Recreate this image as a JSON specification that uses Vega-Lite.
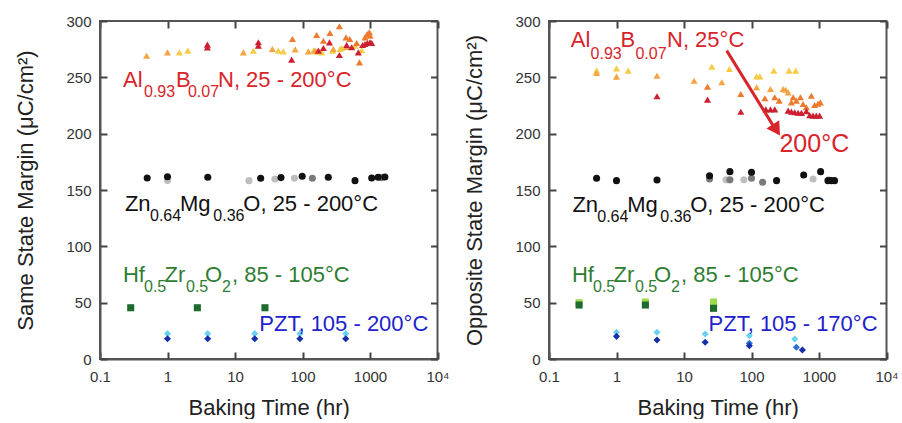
{
  "$schema": "https://vega.github.io/schema/vega-lite/v6.json",
  "autosize": {"type": "pad"},
  "padding": {"left": 13, "top": 13, "right": 5, "bottom": 0},
  "background": "white",
  "config": {
    "font": "Liberation Sans",
    "view": {"stroke": "#555", "strokeWidth": 2},
    "concat": {"spacing": 11},
    "axis": {
      "labelFont": "Liberation Sans", "labelFontSize": 15, "labelColor": "#333",
      "titleFont": "Liberation Sans", "titleFontSize": 22, "titleFontWeight": "normal", "titleColor": "#222",
      "domainColor": "#555", "domainWidth": 2, "tickColor": "#444", "tickWidth": 2, "grid": false, "labelFlush": false, "zindex": 1
    }
  },
  "datasets": {
    "pts": [
      {"p":"L","x":1.5,"y":272.2,"s":"A25"},{"p":"L","x":2.0,"y":273.7,"s":"A25"},{"p":"L","x":18.7,"y":273.7,"s":"A25"},{"p":"L","x":43.8,"y":273.7,"s":"A25"},{"p":"L","x":52,"y":273,"s":"A25"},{"p":"L","x":145,"y":273.7,"s":"A25"},{"p":"L","x":162,"y":272.8,"s":"A25"},{"p":"L","x":192,"y":272.2,"s":"A25"},{"p":"L","x":280,"y":273.7,"s":"A25"},{"p":"L","x":360,"y":275.2,"s":"A25"},{"p":"L","x":380,"y":276,"s":"A25"},{"p":"L","x":600,"y":278,"s":"A25"},{"p":"L","x":753,"y":274,"s":"A25"},
      {"p":"L","x":0.49,"y":269.2,"s":"A105"},{"p":"L","x":1.0,"y":272.2,"s":"A105"},{"p":"L","x":13.3,"y":272.2,"s":"A105"},{"p":"L","x":35.7,"y":275.2,"s":"A105"},{"p":"L","x":78,"y":274.8,"s":"A105"},{"p":"L","x":122,"y":273,"s":"A105"},{"p":"L","x":153,"y":273.7,"s":"A105"},{"p":"L","x":286,"y":275.2,"s":"A105"},{"p":"L","x":450,"y":277,"s":"A105"},
      {"p":"L","x":71,"y":284,"s":"A150"},{"p":"L","x":162,"y":287.6,"s":"A150"},{"p":"L","x":204,"y":282.5,"s":"A150"},{"p":"L","x":255,"y":289.4,"s":"A150"},{"p":"L","x":352,"y":295.3,"s":"A150"},{"p":"L","x":441,"y":285.5,"s":"A150"},{"p":"L","x":501,"y":284,"s":"A150"},{"p":"L","x":635,"y":280.5,"s":"A150"},{"p":"L","x":697,"y":263.3,"s":"A150"},{"p":"L","x":843,"y":285.5,"s":"A150"},{"p":"L","x":912,"y":288.5,"s":"A150"},{"p":"L","x":980,"y":290,"s":"A150"},{"p":"L","x":1000,"y":287,"s":"A150"},
      {"p":"L","x":3.9,"y":276.6,"s":"A200"},{"p":"L","x":3.9,"y":279,"s":"A200"},{"p":"L","x":22.2,"y":281.1,"s":"A200"},{"p":"L","x":22.2,"y":278.1,"s":"A200"},{"p":"L","x":69,"y":265.7,"s":"A200"},{"p":"L","x":172,"y":273.7,"s":"A200"},{"p":"L","x":204,"y":276,"s":"A200"},{"p":"L","x":251,"y":281,"s":"A200"},{"p":"L","x":352,"y":269.8,"s":"A200"},{"p":"L","x":451,"y":278.7,"s":"A200"},{"p":"L","x":535,"y":276.7,"s":"A200"},{"p":"L","x":672,"y":272.2,"s":"A200"},{"p":"L","x":776,"y":278.7,"s":"A200"},{"p":"L","x":843,"y":279.6,"s":"A200"},{"p":"L","x":912,"y":280.5,"s":"A200"},{"p":"L","x":1000,"y":281.1,"s":"A200"},{"p":"L","x":1060,"y":280.5,"s":"A200"},
      {"p":"L","x":1.0,"y":158.5,"s":"Z3"},{"p":"L","x":16.1,"y":158.3,"s":"Z3"},{"p":"L","x":39,"y":159.8,"s":"Z3"},{"p":"L","x":76,"y":160.4,"s":"Z3"},
      {"p":"L","x":140,"y":160.4,"s":"Z2"},{"p":"L","x":1480,"y":161,"s":"Z2"},
      {"p":"L","x":0.5,"y":160.7,"s":"Z1"},{"p":"L","x":1.0,"y":161.8,"s":"Z1"},{"p":"L","x":3.95,"y":161.3,"s":"Z1"},{"p":"L","x":24,"y":160.4,"s":"Z1"},{"p":"L","x":48,"y":161,"s":"Z1"},{"p":"L","x":99,"y":162.2,"s":"Z1"},{"p":"L","x":241,"y":161.3,"s":"Z1"},{"p":"L","x":600,"y":158.3,"s":"Z1"},{"p":"L","x":1059,"y":160.7,"s":"Z1"},{"p":"L","x":1320,"y":161.3,"s":"Z1"},{"p":"L","x":1660,"y":161.5,"s":"Z1"},
      {"p":"L","x":0.285,"y":45.5,"s":"H1"},{"p":"L","x":2.77,"y":45.5,"s":"H1"},{"p":"L","x":27.8,"y":45.5,"s":"H1"},
      {"p":"L","x":1.0,"y":22.5,"s":"P2"},{"p":"L","x":3.94,"y":22.5,"s":"P2"},{"p":"L","x":19.6,"y":22.5,"s":"P2"},{"p":"L","x":91.4,"y":22.5,"s":"P2"},{"p":"L","x":437,"y":22.5,"s":"P2"},
      {"p":"L","x":1.0,"y":18,"s":"P1"},{"p":"L","x":3.94,"y":18,"s":"P1"},{"p":"L","x":19.6,"y":18,"s":"P1"},{"p":"L","x":91.4,"y":18,"s":"P1"},{"p":"L","x":437,"y":18,"s":"P1"},

      {"p":"R","x":0.507,"y":256,"s":"A25"},{"p":"R","x":1.0,"y":258,"s":"A25"},{"p":"R","x":1.49,"y":255.9,"s":"A25"},{"p":"R","x":25.8,"y":259.5,"s":"A25"},{"p":"R","x":47,"y":257.4,"s":"A25"},{"p":"R","x":119,"y":250.9,"s":"A25"},{"p":"R","x":133,"y":250.9,"s":"A25"},{"p":"R","x":214,"y":255.9,"s":"A25"},{"p":"R","x":361,"y":255.9,"s":"A25"},{"p":"R","x":452,"y":255.9,"s":"A25"},
      {"p":"R","x":0.507,"y":253.8,"s":"A105"},{"p":"R","x":1.0,"y":250.6,"s":"A105"},{"p":"R","x":3.98,"y":251.5,"s":"A105"},{"p":"R","x":14.1,"y":247,"s":"A105"},{"p":"R","x":36.3,"y":245.6,"s":"A105"},{"p":"R","x":119,"y":241.2,"s":"A105"},{"p":"R","x":191,"y":239.7,"s":"A105"},{"p":"R","x":295,"y":239.7,"s":"A105"},{"p":"R","x":321,"y":239,"s":"A105"},{"p":"R","x":349,"y":236.7,"s":"A105"},
      {"p":"R","x":22.3,"y":241.7,"s":"A150"},{"p":"R","x":69.5,"y":235.2,"s":"A150"},{"p":"R","x":158,"y":231.4,"s":"A150"},{"p":"R","x":221,"y":232.3,"s":"A150"},{"p":"R","x":257,"y":229.3,"s":"A150"},{"p":"R","x":390,"y":227.8,"s":"A150"},{"p":"R","x":414,"y":232.3,"s":"A150"},{"p":"R","x":462,"y":229.3,"s":"A150"},{"p":"R","x":530,"y":232.3,"s":"A150"},{"p":"R","x":580,"y":226.3,"s":"A150"},{"p":"R","x":650,"y":223.4,"s":"A150"},{"p":"R","x":770,"y":233.7,"s":"A150"},{"p":"R","x":861,"y":225.4,"s":"A150"},{"p":"R","x":966,"y":226.6,"s":"A150"},{"p":"R","x":1047,"y":227.8,"s":"A150"},
      {"p":"R","x":3.98,"y":233.2,"s":"A200"},{"p":"R","x":22.3,"y":230.2,"s":"A200"},{"p":"R","x":69.5,"y":219.5,"s":"A200"},{"p":"R","x":163,"y":221.6,"s":"A200"},{"p":"R","x":191,"y":221.6,"s":"A200"},{"p":"R","x":221,"y":221.6,"s":"A200"},{"p":"R","x":349,"y":220.4,"s":"A200"},{"p":"R","x":390,"y":219.6,"s":"A200"},{"p":"R","x":436,"y":219,"s":"A200"},{"p":"R","x":490,"y":218.6,"s":"A200"},{"p":"R","x":550,"y":218.4,"s":"A200"},{"p":"R","x":650,"y":220,"s":"A200"},{"p":"R","x":728,"y":216.5,"s":"A200"},{"p":"R","x":815,"y":216,"s":"A200"},{"p":"R","x":912,"y":216,"s":"A200"},{"p":"R","x":1020,"y":216,"s":"A200"},
      {"p":"R","x":42,"y":159,"s":"Z3"},{"p":"R","x":77,"y":159.1,"s":"Z3"},{"p":"R","x":817,"y":159.8,"s":"Z3"},{"p":"R","x":1400,"y":159,"s":"Z3"},
      {"p":"R","x":23.9,"y":159.8,"s":"Z2"},{"p":"R","x":47.9,"y":159,"s":"Z2"},{"p":"R","x":100,"y":160.5,"s":"Z2"},{"p":"R","x":146,"y":156.8,"s":"Z2"},
      {"p":"R","x":0.507,"y":160.4,"s":"Z1"},{"p":"R","x":1.0,"y":158.3,"s":"Z1"},{"p":"R","x":3.98,"y":158.9,"s":"Z1"},{"p":"R","x":23.9,"y":162.7,"s":"Z1"},{"p":"R","x":47.9,"y":166.3,"s":"Z1"},{"p":"R","x":100,"y":165.7,"s":"Z1"},{"p":"R","x":235,"y":158.3,"s":"Z1"},{"p":"R","x":593,"y":163.3,"s":"Z1"},{"p":"R","x":1057,"y":166.3,"s":"Z1"},{"p":"R","x":1358,"y":158.3,"s":"Z1"},{"p":"R","x":1515,"y":158.3,"s":"Z1"},{"p":"R","x":1697,"y":158.3,"s":"Z1"},
      {"p":"R","x":0.279,"y":50,"s":"H2"},{"p":"R","x":2.68,"y":50.6,"s":"H2"},{"p":"R","x":27.4,"y":50.6,"s":"H2"},{"p":"R","x":27.4,"y":48,"s":"H2"},
      {"p":"R","x":0.279,"y":47.9,"s":"H1"},{"p":"R","x":2.68,"y":47.9,"s":"H1"},{"p":"R","x":27.4,"y":45,"s":"H1"},
      {"p":"R","x":1.0,"y":23.7,"s":"P2"},{"p":"R","x":3.98,"y":23.7,"s":"P2"},{"p":"R","x":20.6,"y":22.2,"s":"P2"},{"p":"R","x":93,"y":20.7,"s":"P2"},{"p":"R","x":437,"y":17.8,"s":"P2"},
      {"p":"R","x":93,"y":14,"s":"P3"},{"p":"R","x":462,"y":10.4,"s":"P3"},
      {"p":"R","x":1.0,"y":20.1,"s":"P1"},{"p":"R","x":3.98,"y":16.9,"s":"P1"},{"p":"R","x":20.6,"y":14.8,"s":"P1"},{"p":"R","x":93,"y":11.8,"s":"P1"},{"p":"R","x":568,"y":8.0,"s":"P1"}
    ],
    "lab": [
      {"p":"L","k":"m","s":"tA","t":"Al","x":0.219,"y":241.4},
      {"p":"L","k":"s","s":"tA","t":"0.93","x":0.449,"y":232.6},
      {"p":"L","k":"m","s":"tA","t":"B","x":1.336,"y":241.4},
      {"p":"L","k":"s","s":"tA","t":"0.07","x":2.01,"y":232.6},
      {"p":"L","k":"m","s":"tA","t":"N, 25 - 200°C","x":5.6,"y":241.4},
      {"p":"L","k":"m","s":"tZ","t":"Zn","x":0.234,"y":131.6},
      {"p":"L","k":"s","s":"tZ","t":"0.64","x":0.551,"y":122.8},
      {"p":"L","k":"m","s":"tZ","t":"Mg","x":1.53,"y":131.6},
      {"p":"L","k":"s","s":"tZ","t":"0.36","x":4.77,"y":122.8},
      {"p":"L","k":"m","s":"tZ","t":"O, 25 - 200°C","x":13.27,"y":131.6},
      {"p":"L","k":"m","s":"tH","t":"Hf","x":0.219,"y":68.3},
      {"p":"L","k":"s","s":"tH","t":"0.5","x":0.4486,"y":59.5},
      {"p":"L","k":"m","s":"tH","t":"Zr","x":0.903,"y":68.3},
      {"p":"L","k":"s","s":"tH","t":"0.5","x":1.88,"y":59.5},
      {"p":"L","k":"m","s":"tH","t":"O","x":3.594,"y":68.3},
      {"p":"L","k":"s","s":"tH","t":"2","x":6.42,"y":59.5},
      {"p":"L","k":"m","s":"tH","t":", 85 - 105°C","x":9.03,"y":68.3},
      {"p":"L","k":"m","s":"tP","t":"PZT, 105 - 200°C","x":22.9,"y":25.1},
      {"p":"R","k":"m","s":"tA","t":"Al","x":0.21,"y":276.7},
      {"p":"R","k":"s","s":"tA","t":"0.93","x":0.4135,"y":266.3},
      {"p":"R","k":"m","s":"tA","t":"B","x":1.146,"y":276.7},
      {"p":"R","k":"s","s":"tA","t":"0.07","x":1.906,"y":266.3},
      {"p":"R","k":"m","s":"tA","t":"N, 25°C","x":5.6,"y":276.7},
      {"p":"R","k":"b","s":"tA","t":"200°C","x":259.4,"y":183.7},
      {"p":"R","k":"m","s":"tZ","t":"Zn","x":0.222,"y":130.2},
      {"p":"R","k":"s","s":"tZ","t":"0.64","x":0.519,"y":121.3},
      {"p":"R","k":"m","s":"tZ","t":"Mg","x":1.44,"y":130.2},
      {"p":"R","k":"s","s":"tZ","t":"0.36","x":4.46,"y":121.3},
      {"p":"R","k":"m","s":"tZ","t":"O, 25 - 200°C","x":12.35,"y":130.2},
      {"p":"R","k":"m","s":"tH","t":"Hf","x":0.219,"y":68.3},
      {"p":"R","k":"s","s":"tH","t":"0.5","x":0.4486,"y":59.5},
      {"p":"R","k":"m","s":"tH","t":"Zr","x":0.903,"y":68.3},
      {"p":"R","k":"s","s":"tH","t":"0.5","x":1.88,"y":59.5},
      {"p":"R","k":"m","s":"tH","t":"O","x":3.594,"y":68.3},
      {"p":"R","k":"s","s":"tH","t":"2","x":6.42,"y":59.5},
      {"p":"R","k":"m","s":"tH","t":", 85 - 105°C","x":9.03,"y":68.3},
      {"p":"R","k":"m","s":"tP","t":"PZT, 105 - 170°C","x":23.1,"y":25.1}
    ],
    "arr": [
      {"x":42.9,"y":273.7,"x2":215,"y2":206,"hx":234,"hy":203.3}
    ]
  },
  "hconcat": [
    {
      "width": 337.5, "height": 338,
      "layer": [
        {
          "data": {"name": "pts"},
          "transform": [{"filter": "datum.p == 'L'"}],
          "mark": {"type": "point", "filled": true, "size": 50, "opacity": 1},
          "encoding": {
            "x": {"field": "x", "type": "quantitative", "scale": {"type": "log", "domain": [0.1, 10000], "nice": false},
              "axis": {"orient": "bottom", "values": [0.1, 1, 10, 100, 1000, 10000], "labelExpr": "datum.value >= 10000 ? '10⁴' : (datum.value < 1 ? '0.1' : format(datum.value, 'd'))", "title": "Baking Time (hr)", "ticks": false, "labelPadding": 10, "titlePadding": 13}},
            "y": {"field": "y", "type": "quantitative", "scale": {"domain": [0, 300], "nice": false},
              "axis": {"orient": "left", "values": [0, 50, 100, 150, 200, 250, 300], "title": "Same State Margin (μC/cm²)", "ticks": false, "labelPadding": 9, "minExtent": 45, "maxExtent": 45, "titlePadding": 18}},
            "color": {"field": "s", "type": "nominal", "legend": null,
              "scale": {"domain": ["A25","A105","A150","A200","Z1","Z2","Z3","H1","H2","P1","P2","P3","tA","tZ","tH","tP"],
                        "range": ["#F6CB45","#F5A442","#EE7A2E","#CC1F2F","#111111","#7A7A7A","#BEBEBE","#1E6B2E","#9BDB4D","#1530A8","#6BD0F2","#2F6FD6","#D8242B","#111111","#2E7D32","#2222CC"]}},
            "shape": {"field": "s", "type": "nominal", "legend": null,
              "scale": {"domain": ["A25","A105","A150","A200","Z1","Z2","Z3","H1","H2","P1","P2","P3"],
                        "range": ["triangle-up","triangle-up","triangle-up","triangle-up","circle","circle","circle","square","square","diamond","diamond","diamond"]}}
          }
        },
        {
          "data": {"name": "pts"},
          "transform": [{"filter": "datum.p == 'L'"}],
          "mark": {"type": "point", "opacity": 0},
          "encoding": {
            "x": {"field": "x", "type": "quantitative", "scale": {"type": "log", "domain": [0.1, 10000], "nice": false},
              "axis": {"orient": "top", "values": [0.1, 1, 10, 100, 1000, 10000], "labels": false, "domain": false, "title": null, "tickSize": 7, "offset": -7, "minExtent": 0, "maxExtent": 0}},
            "y": {"field": "y", "type": "quantitative", "scale": {"domain": [0, 300], "nice": false},
              "axis": {"orient": "right", "values": [0, 50, 100, 150, 200, 250, 300], "labels": false, "domain": false, "title": null, "tickSize": 7, "offset": -7, "minExtent": 0, "maxExtent": 0}}
          }
        },
        {
          "data": {"name": "pts"},
          "transform": [{"filter": "datum.p == 'L'"}],
          "mark": {"type": "point", "opacity": 0},
          "encoding": {
            "x": {"field": "x", "type": "quantitative", "scale": {"type": "log", "domain": [0.1, 10000], "nice": false},
              "axis": {"orient": "bottom", "values": [0.1, 1, 10, 100, 1000, 10000], "labels": false, "domain": false, "title": null, "tickSize": 7, "offset": -7, "minExtent": 0, "maxExtent": 0}},
            "y": {"field": "y", "type": "quantitative", "scale": {"domain": [0, 300], "nice": false},
              "axis": {"orient": "left", "values": [0, 50, 100, 150, 200, 250, 300], "labels": false, "domain": false, "title": null, "tickSize": 7, "offset": -7, "minExtent": 0, "maxExtent": 0}}
          }
        },
        {
          "data": {"name": "lab"},
          "transform": [{"filter": "datum.p == 'L' && datum.k == 'm'"}],
          "mark": {"type": "text", "align": "left", "baseline": "alphabetic", "fontSize": 22},
          "encoding": {
            "x": {"field": "x", "type": "quantitative", "scale": {"type": "log", "domain": [0.1, 10000], "nice": false}, "axis": null},
            "y": {"field": "y", "type": "quantitative", "scale": {"domain": [0, 300], "nice": false}, "axis": null},
            "text": {"field": "t"},
            "color": {"field": "s", "type": "nominal", "legend": null}
          }
        },
        {
          "data": {"name": "lab"},
          "transform": [{"filter": "datum.p == 'L' && datum.k == 's'"}],
          "mark": {"type": "text", "align": "left", "baseline": "alphabetic", "fontSize": 16},
          "encoding": {
            "x": {"field": "x", "type": "quantitative", "scale": {"type": "log", "domain": [0.1, 10000], "nice": false}, "axis": null},
            "y": {"field": "y", "type": "quantitative", "scale": {"domain": [0, 300], "nice": false}, "axis": null},
            "text": {"field": "t"},
            "color": {"field": "s", "type": "nominal", "legend": null}
          }
        }
      ],
      "resolve": {"axis": {"x": "independent", "y": "independent"}}
    },
    {
      "width": 337.5, "height": 338,
      "layer": [
        {
          "data": {"name": "pts"},
          "transform": [{"filter": "datum.p == 'R'"}],
          "mark": {"type": "point", "filled": true, "size": 50, "opacity": 1},
          "encoding": {
            "x": {"field": "x", "type": "quantitative", "scale": {"type": "log", "domain": [0.1, 10000], "nice": false},
              "axis": {"orient": "bottom", "values": [0.1, 1, 10, 100, 1000, 10000], "labelExpr": "datum.value >= 10000 ? '10⁴' : (datum.value < 1 ? '0.1' : format(datum.value, 'd'))", "title": "Baking Time (hr)", "ticks": false, "labelPadding": 10, "titlePadding": 13}},
            "y": {"field": "y", "type": "quantitative", "scale": {"domain": [0, 300], "nice": false},
              "axis": {"orient": "left", "values": [0, 50, 100, 150, 200, 250, 300], "title": "Opposite State Margin (μC/cm²)", "ticks": false, "labelPadding": 9, "minExtent": 45, "maxExtent": 45, "titlePadding": 18}},
            "color": {"field": "s", "type": "nominal", "legend": null,
              "scale": {"domain": ["A25","A105","A150","A200","Z1","Z2","Z3","H1","H2","P1","P2","P3","tA","tZ","tH","tP"],
                        "range": ["#F6CB45","#F5A442","#EE7A2E","#CC1F2F","#111111","#7A7A7A","#BEBEBE","#1E6B2E","#9BDB4D","#1530A8","#6BD0F2","#2F6FD6","#D8242B","#111111","#2E7D32","#2222CC"]}},
            "shape": {"field": "s", "type": "nominal", "legend": null,
              "scale": {"domain": ["A25","A105","A150","A200","Z1","Z2","Z3","H1","H2","P1","P2","P3"],
                        "range": ["triangle-up","triangle-up","triangle-up","triangle-up","circle","circle","circle","square","square","diamond","diamond","diamond"]}}
          }
        },
        {
          "data": {"name": "pts"},
          "transform": [{"filter": "datum.p == 'R'"}],
          "mark": {"type": "point", "opacity": 0},
          "encoding": {
            "x": {"field": "x", "type": "quantitative", "scale": {"type": "log", "domain": [0.1, 10000], "nice": false},
              "axis": {"orient": "top", "values": [0.1, 1, 10, 100, 1000, 10000], "labels": false, "domain": false, "title": null, "tickSize": 7, "offset": -7, "minExtent": 0, "maxExtent": 0}},
            "y": {"field": "y", "type": "quantitative", "scale": {"domain": [0, 300], "nice": false},
              "axis": {"orient": "right", "values": [0, 50, 100, 150, 200, 250, 300], "labels": false, "domain": false, "title": null, "tickSize": 7, "offset": -7, "minExtent": 0, "maxExtent": 0}}
          }
        },
        {
          "data": {"name": "pts"},
          "transform": [{"filter": "datum.p == 'R'"}],
          "mark": {"type": "point", "opacity": 0},
          "encoding": {
            "x": {"field": "x", "type": "quantitative", "scale": {"type": "log", "domain": [0.1, 10000], "nice": false},
              "axis": {"orient": "bottom", "values": [0.1, 1, 10, 100, 1000, 10000], "labels": false, "domain": false, "title": null, "tickSize": 7, "offset": -7, "minExtent": 0, "maxExtent": 0}},
            "y": {"field": "y", "type": "quantitative", "scale": {"domain": [0, 300], "nice": false},
              "axis": {"orient": "left", "values": [0, 50, 100, 150, 200, 250, 300], "labels": false, "domain": false, "title": null, "tickSize": 7, "offset": -7, "minExtent": 0, "maxExtent": 0}}
          }
        },
        {
          "data": {"name": "arr"},
          "mark": {"type": "rule", "color": "#D8242B", "strokeWidth": 3},
          "encoding": {
            "x": {"field": "x", "type": "quantitative", "scale": {"type": "log", "domain": [0.1, 10000], "nice": false}, "axis": null},
            "y": {"field": "y", "type": "quantitative", "scale": {"domain": [0, 300], "nice": false}, "axis": null},
            "x2": {"field": "x2"},
            "y2": {"field": "y2"}
          }
        },
        {
          "data": {"name": "arr"},
          "mark": {"type": "point", "shape": "triangle-up", "filled": true, "color": "#D8242B", "size": 230, "angle": 147, "opacity": 1},
          "encoding": {
            "x": {"field": "hx", "type": "quantitative", "scale": {"type": "log", "domain": [0.1, 10000], "nice": false}, "axis": null},
            "y": {"field": "hy", "type": "quantitative", "scale": {"domain": [0, 300], "nice": false}, "axis": null}
          }
        },
        {
          "data": {"name": "lab"},
          "transform": [{"filter": "datum.p == 'R' && datum.k == 'm'"}],
          "mark": {"type": "text", "align": "left", "baseline": "alphabetic", "fontSize": 22},
          "encoding": {
            "x": {"field": "x", "type": "quantitative", "scale": {"type": "log", "domain": [0.1, 10000], "nice": false}, "axis": null},
            "y": {"field": "y", "type": "quantitative", "scale": {"domain": [0, 300], "nice": false}, "axis": null},
            "text": {"field": "t"},
            "color": {"field": "s", "type": "nominal", "legend": null}
          }
        },
        {
          "data": {"name": "lab"},
          "transform": [{"filter": "datum.p == 'R' && datum.k == 'b'"}],
          "mark": {"type": "text", "align": "left", "baseline": "alphabetic", "fontSize": 25},
          "encoding": {
            "x": {"field": "x", "type": "quantitative", "scale": {"type": "log", "domain": [0.1, 10000], "nice": false}, "axis": null},
            "y": {"field": "y", "type": "quantitative", "scale": {"domain": [0, 300], "nice": false}, "axis": null},
            "text": {"field": "t"},
            "color": {"field": "s", "type": "nominal", "legend": null}
          }
        },
        {
          "data": {"name": "lab"},
          "transform": [{"filter": "datum.p == 'R' && datum.k == 's'"}],
          "mark": {"type": "text", "align": "left", "baseline": "alphabetic", "fontSize": 16},
          "encoding": {
            "x": {"field": "x", "type": "quantitative", "scale": {"type": "log", "domain": [0.1, 10000], "nice": false}, "axis": null},
            "y": {"field": "y", "type": "quantitative", "scale": {"domain": [0, 300], "nice": false}, "axis": null},
            "text": {"field": "t"},
            "color": {"field": "s", "type": "nominal", "legend": null}
          }
        }
      ],
      "resolve": {"axis": {"x": "independent", "y": "independent"}}
    }
  ]
}
